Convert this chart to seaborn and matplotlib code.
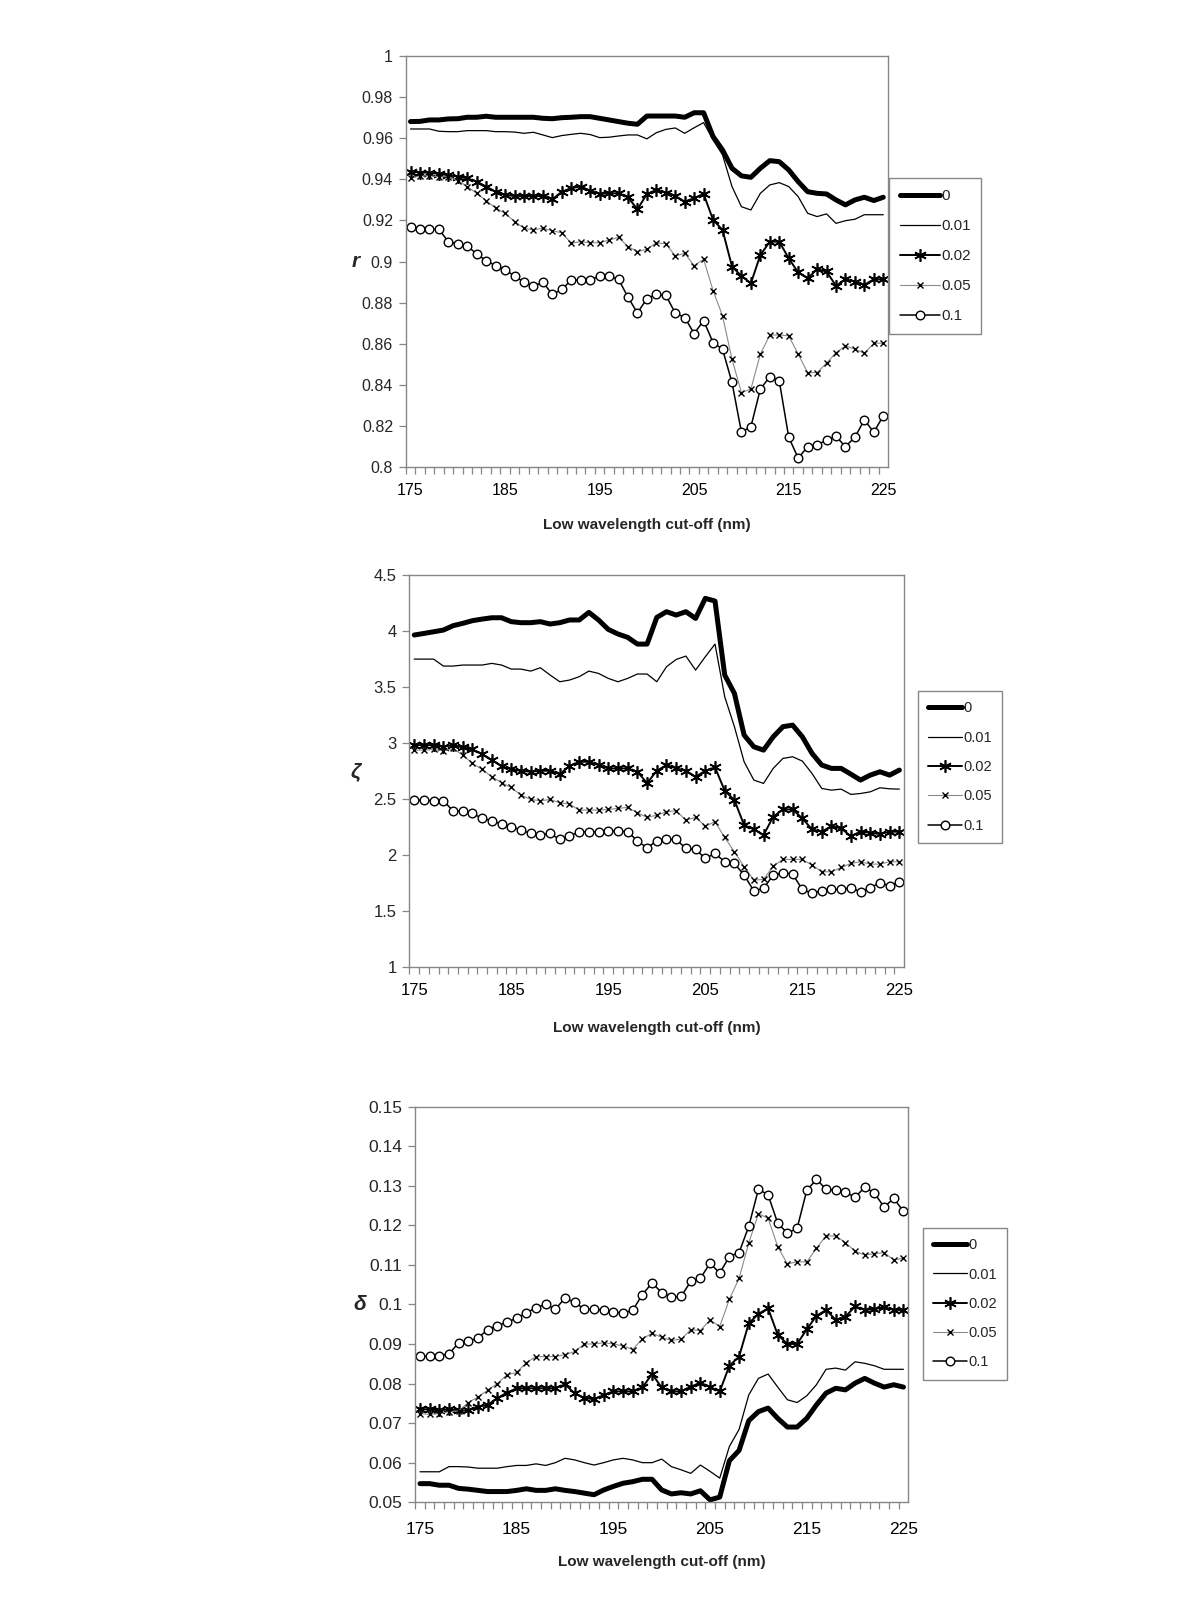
import numpy as np
import pandas as pd
import seaborn as sns
import matplotlib
matplotlib.use("Agg")
import matplotlib.pyplot as plt
from matplotlib.ticker import FixedLocator, FuncFormatter

# ---------------- data ----------------
wavelength = list(range(175, 226))
series_labels = ["0", "0.01", "0.02", "0.05", "0.1"]
xlabel_text = "Low wavelength cut-off (nm)"
x_tick_values = [175, 185, 195, 205, 215, 225]

# panel 1 : r
r_0 = [0.9681, 0.9682, 0.9689, 0.9689, 0.9694, 0.9695, 0.9702, 0.9702, 0.9707, 0.9702,
       0.9702, 0.9702, 0.9702, 0.9702, 0.9697, 0.9695, 0.9700, 0.9702, 0.9705, 0.9705,
       0.9697, 0.9689, 0.9681, 0.9673, 0.9668, 0.9708, 0.9708, 0.9708, 0.9708, 0.9702,
       0.9724, 0.9724, 0.9608, 0.9543, 0.9454, 0.9417, 0.9410, 0.9454, 0.9491, 0.9486,
       0.9446, 0.9389, 0.9340, 0.9332, 0.9329, 0.9300, 0.9276, 0.9300, 0.9313, 0.9297, 0.9313]
r_001 = [0.9645, 0.9645, 0.9645, 0.9634, 0.9632, 0.9632, 0.9637, 0.9637, 0.9637, 0.9632,
         0.9632, 0.9630, 0.9624, 0.9629, 0.9616, 0.9603, 0.9613, 0.9619, 0.9624, 0.9618,
         0.9603, 0.9605, 0.9611, 0.9616, 0.9616, 0.9597, 0.9627, 0.9643, 0.9650, 0.9624,
         0.9651, 0.9676, 0.9592, 0.9519, 0.9365, 0.9267, 0.9251, 0.9332, 0.9373, 0.9384,
         0.9365, 0.9316, 0.9235, 0.9219, 0.9232, 0.9186, 0.9199, 0.9206, 0.9228, 0.9228, 0.9228]
r_002 = [0.9438, 0.9433, 0.9433, 0.9426, 0.9421, 0.9413, 0.9405, 0.9389, 0.9365, 0.9340,
         0.9324, 0.9319, 0.9319, 0.9319, 0.9319, 0.9303, 0.9340, 0.9357, 0.9365, 0.9345,
         0.9329, 0.9332, 0.9332, 0.9313, 0.9254, 0.9329, 0.9348, 0.9335, 0.9319, 0.9292,
         0.9308, 0.9329, 0.9203, 0.9154, 0.8976, 0.8930, 0.8895, 0.9032, 0.9097, 0.9097,
         0.9016, 0.8947, 0.8919, 0.8963, 0.8952, 0.8882, 0.8914, 0.8903, 0.8887, 0.8914, 0.8914]
r_005 = [0.9405, 0.9417, 0.9417, 0.9413, 0.9413, 0.9394, 0.9365, 0.9332, 0.9297, 0.9260,
         0.9235, 0.9195, 0.9162, 0.9154, 0.9162, 0.9150, 0.9140, 0.9089, 0.9097, 0.9092,
         0.9092, 0.9105, 0.9118, 0.9073, 0.9049, 0.9060, 0.9092, 0.9086, 0.9028, 0.9040,
         0.8980, 0.9011, 0.8859, 0.8736, 0.8525, 0.8363, 0.8380, 0.8550, 0.8643, 0.8643,
         0.8639, 0.8550, 0.8460, 0.8460, 0.8506, 0.8557, 0.8590, 0.8574, 0.8554, 0.8603, 0.8603]
r_01 = [0.9170, 0.9160, 0.9157, 0.9157, 0.9097, 0.9086, 0.9078, 0.9036, 0.9005, 0.8980,
        0.8960, 0.8930, 0.8900, 0.8880, 0.8900, 0.8840, 0.8865, 0.8910, 0.8910, 0.8910,
        0.8930, 0.8930, 0.8914, 0.8827, 0.8750, 0.8820, 0.8840, 0.8836, 0.8750, 0.8728,
        0.8650, 0.8713, 0.8606, 0.8574, 0.8412, 0.8170, 0.8197, 0.8380, 0.8440, 0.8420,
        0.8146, 0.8044, 0.8100, 0.8110, 0.8130, 0.8150, 0.8100, 0.8146, 0.8230, 0.8170, 0.8250]
r_ticks = [0.8, 0.82, 0.84, 0.86, 0.88, 0.9, 0.92, 0.94, 0.96, 0.98, 1.0]

# panel 2 : zeta
z_0 = [3.965, 3.979, 3.994, 4.009, 4.048, 4.069, 4.093, 4.107, 4.119, 4.119,
       4.084, 4.075, 4.075, 4.084, 4.063, 4.075, 4.099, 4.099, 4.167, 4.099,
       4.015, 3.974, 3.944, 3.884, 3.884, 4.122, 4.173, 4.143, 4.173, 4.113,
       4.292, 4.268, 3.608, 3.444, 3.072, 2.968, 2.938, 3.057, 3.147, 3.161,
       3.057, 2.909, 2.805, 2.775, 2.775, 2.724, 2.671, 2.715, 2.745, 2.715, 2.760]
z_001 = [3.750, 3.750, 3.750, 3.688, 3.688, 3.697, 3.697, 3.697, 3.712, 3.697,
         3.661, 3.661, 3.643, 3.673, 3.608, 3.548, 3.563, 3.593, 3.643, 3.622,
         3.578, 3.548, 3.578, 3.617, 3.617, 3.548, 3.682, 3.747, 3.777, 3.652,
         3.771, 3.884, 3.414, 3.147, 2.834, 2.671, 2.641, 2.775, 2.864, 2.879,
         2.840, 2.730, 2.596, 2.581, 2.590, 2.543, 2.551, 2.566, 2.602, 2.593, 2.590]
z_002 = [2.983, 2.983, 2.983, 2.968, 2.983, 2.962, 2.944, 2.903, 2.849, 2.796,
         2.766, 2.754, 2.745, 2.754, 2.754, 2.724, 2.796, 2.834, 2.834, 2.805,
         2.775, 2.775, 2.775, 2.745, 2.644, 2.754, 2.805, 2.775, 2.754, 2.700,
         2.754, 2.784, 2.576, 2.492, 2.269, 2.231, 2.180, 2.344, 2.409, 2.409,
         2.329, 2.231, 2.210, 2.260, 2.239, 2.171, 2.210, 2.201, 2.189, 2.210, 2.210]
z_005 = [2.938, 2.938, 2.944, 2.932, 2.953, 2.894, 2.819, 2.766, 2.700, 2.647,
         2.605, 2.537, 2.498, 2.486, 2.498, 2.468, 2.457, 2.403, 2.403, 2.403,
         2.409, 2.418, 2.427, 2.379, 2.338, 2.358, 2.388, 2.397, 2.314, 2.338,
         2.260, 2.299, 2.159, 2.031, 1.898, 1.779, 1.784, 1.903, 1.963, 1.963,
         1.963, 1.912, 1.853, 1.853, 1.891, 1.927, 1.942, 1.921, 1.921, 1.942, 1.942]
z_01 = [2.492, 2.492, 2.486, 2.486, 2.397, 2.397, 2.373, 2.329, 2.308, 2.278,
        2.254, 2.225, 2.195, 2.180, 2.195, 2.141, 2.171, 2.210, 2.210, 2.210,
        2.219, 2.219, 2.210, 2.129, 2.065, 2.129, 2.141, 2.141, 2.061, 2.052,
        1.972, 2.016, 1.942, 1.927, 1.823, 1.683, 1.704, 1.823, 1.844, 1.832,
        1.695, 1.660, 1.683, 1.695, 1.695, 1.710, 1.674, 1.710, 1.754, 1.725, 1.763]
z_ticks = [1.0, 1.5, 2.0, 2.5, 3.0, 3.5, 4.0, 4.5]

# panel 3 : delta
d_0 = [0.0547, 0.0547, 0.0543, 0.0543, 0.0535, 0.0533, 0.0530, 0.0527, 0.0527, 0.0527,
       0.0530, 0.0534, 0.0530, 0.0530, 0.0534, 0.0530, 0.0527, 0.0523, 0.0519, 0.0531,
       0.0540, 0.0548, 0.0552, 0.0558, 0.0558, 0.0531, 0.0521, 0.0524, 0.0521, 0.0529,
       0.0506, 0.0513, 0.0605, 0.0631, 0.0706, 0.0729, 0.0738, 0.0712, 0.0690, 0.0690,
       0.0712, 0.0746, 0.0776, 0.0788, 0.0784, 0.0801, 0.0813, 0.0801, 0.0791, 0.0797, 0.0791]
d_001 = [0.0577, 0.0577, 0.0577, 0.0590, 0.0590, 0.0589, 0.0586, 0.0586, 0.0586, 0.0590,
         0.0593, 0.0593, 0.0597, 0.0593, 0.0600, 0.0611, 0.0607, 0.0600, 0.0594, 0.0600,
         0.0607, 0.0611, 0.0607, 0.0600, 0.0600, 0.0609, 0.0590, 0.0582, 0.0573, 0.0594,
         0.0578, 0.0561, 0.0641, 0.0684, 0.0771, 0.0813, 0.0824, 0.0791, 0.0759, 0.0752,
         0.0769, 0.0797, 0.0836, 0.0839, 0.0834, 0.0855, 0.0851, 0.0845, 0.0836, 0.0836, 0.0836]
d_002 = [0.0735, 0.0735, 0.0732, 0.0735, 0.0732, 0.0732, 0.0741, 0.0746, 0.0763, 0.0777,
         0.0788, 0.0788, 0.0788, 0.0788, 0.0788, 0.0798, 0.0775, 0.0764, 0.0760, 0.0771,
         0.0780, 0.0780, 0.0780, 0.0790, 0.0824, 0.0790, 0.0780, 0.0780, 0.0792, 0.0802,
         0.0791, 0.0780, 0.0845, 0.0868, 0.0952, 0.0976, 0.0990, 0.0923, 0.0900, 0.0900,
         0.0937, 0.0971, 0.0986, 0.0961, 0.0969, 0.0995, 0.0986, 0.0988, 0.0993, 0.0986, 0.0986]
d_005 = [0.0724, 0.0722, 0.0724, 0.0729, 0.0731, 0.0752, 0.0766, 0.0783, 0.0800, 0.0822,
         0.0828, 0.0853, 0.0868, 0.0868, 0.0868, 0.0873, 0.0881, 0.0900, 0.0900, 0.0903,
         0.0900, 0.0895, 0.0886, 0.0913, 0.0927, 0.0917, 0.0909, 0.0912, 0.0936, 0.0934,
         0.0961, 0.0944, 0.1013, 0.1066, 0.1155, 0.1229, 0.1218, 0.1146, 0.1102, 0.1108,
         0.1107, 0.1142, 0.1173, 0.1173, 0.1156, 0.1134, 0.1125, 0.1128, 0.1131, 0.1112, 0.1117]
d_01 = [0.0869, 0.0869, 0.0870, 0.0875, 0.0903, 0.0907, 0.0915, 0.0936, 0.0946, 0.0955,
        0.0965, 0.0978, 0.0992, 0.1000, 0.0988, 0.1016, 0.1005, 0.0988, 0.0988, 0.0985,
        0.0981, 0.0978, 0.0985, 0.1025, 0.1054, 0.1030, 0.1018, 0.1020, 0.1058, 0.1066,
        0.1104, 0.1079, 0.1121, 0.1131, 0.1197, 0.1291, 0.1277, 0.1205, 0.1180, 0.1192,
        0.1288, 0.1316, 0.1291, 0.1288, 0.1283, 0.1271, 0.1296, 0.1281, 0.1246, 0.1268, 0.1235]
d_ticks = [0.05, 0.06, 0.07, 0.08, 0.09, 0.10, 0.11, 0.12, 0.13, 0.14, 0.15]

# ---------------- styling ----------------
sns.set_theme(style="white")
plt.rcParams["font.family"] = ["Liberation Sans", "DejaVu Sans"]

line_styles = {
    "0": dict(color="black", linewidth=3.6),
    "0.01": dict(color="black", linewidth=0.9),
    "0.02": dict(color="black", linewidth=1.4, marker=(6, 2, 0), markersize=9,
                 markeredgecolor="black", markeredgewidth=1.2),
    "0.05": dict(color="#8a8a8a", linewidth=0.8, marker="x", markersize=5,
                 markeredgecolor="black", markeredgewidth=1.0),
    "0.1": dict(color="black", linewidth=1.1, marker="o", markersize=6.2,
                markerfacecolor="white", markeredgecolor="black", markeredgewidth=1.0),
}

panels = [
    dict(rect=[0.338, 0.708, 0.402, 0.257], data=[r_0, r_001, r_002, r_005, r_01],
         ticks=r_ticks, ylabel="r", ylabel_x=-0.103, legend_xy=(0.741, 0.8885),
         fs=11.5, lab_fs=11, tpad=11.5, lpad=14, leg_fs=11, leg_hl=2.6),
    dict(rect=[0.341, 0.3954, 0.4125, 0.2452], data=[z_0, z_001, z_002, z_005, z_01],
         ticks=z_ticks, ylabel="ζ", ylabel_x=-0.108, legend_xy=(0.765, 0.568),
         fs=12, lab_fs=11, tpad=11, lpad=17, leg_fs=10.5, leg_hl=2.3),
    dict(rect=[0.3458, 0.0611, 0.4111, 0.2473], data=[d_0, d_001, d_002, d_005, d_01],
         ticks=d_ticks, ylabel="δ", ylabel_x=-0.111, legend_xy=(0.769, 0.2325),
         fs=12.5, lab_fs=11, tpad=14, lpad=13, leg_fs=10.5, leg_hl=2.3),
]

fig = plt.figure(figsize=(12, 16), dpi=100)
fig.patch.set_facecolor("white")
spine_col = "#868686"

for p in panels:
    ax = fig.add_axes(p["rect"])
    ax.set_facecolor("white")
    for lab, vals in zip(series_labels, p["data"]):
        df = pd.DataFrame({"wl": wavelength, "v": vals})
        sns.lineplot(data=df, x="wl", y="v", ax=ax, label=lab, **line_styles[lab])
    leg = ax.get_legend()
    if leg is not None:
        leg.remove()

    ax.set_xlim(174.48, 225.5)
    ax.set_ylim(p["ticks"][0], p["ticks"][-1])
    ax.yaxis.set_major_locator(FixedLocator(p["ticks"]))
    ax.yaxis.set_major_formatter(FuncFormatter(lambda v, pos: f"{round(v, 4):g}"))
    ax.xaxis.set_major_locator(FixedLocator(x_tick_values))
    ax.xaxis.set_minor_locator(FixedLocator([w + 0.5 for w in wavelength[:-1]] + [174.5]))
    ax.tick_params(axis="x", which="major", length=0, pad=p["tpad"], labelsize=p["fs"],
                   colors="black")
    ax.tick_params(axis="x", which="minor", length=5, width=0.9, color=spine_col,
                   direction="out", bottom=True)
    ax.tick_params(axis="y", which="major", length=5, width=0.9, color=spine_col,
                   direction="out", left=True, labelsize=p["fs"], pad=4)
    for s in ax.spines.values():
        s.set_color(spine_col)
        s.set_linewidth(1.0)
        s.set_visible(True)
    ax.grid(False)
    ax.set_xlabel(xlabel_text, fontsize=p["lab_fs"], fontweight="bold", labelpad=p["lpad"])
    ax.set_ylabel(p["ylabel"], fontsize=15, fontweight="bold", fontstyle="italic", rotation=0,
                  va="center", ha="center")
    ax.yaxis.set_label_coords(p["ylabel_x"], 0.5)

    handles, labels = ax.get_legend_handles_labels()
    fig.legend(handles, labels, loc="upper left", bbox_to_anchor=p["legend_xy"],
               frameon=True, fancybox=False, edgecolor=spine_col, framealpha=1,
               fontsize=p["leg_fs"], handlelength=p["leg_hl"], handletextpad=0.1,
               labelspacing=1.05, borderpad=0.7, borderaxespad=0)

fig.savefig("out.png", dpi=100, facecolor="white")
